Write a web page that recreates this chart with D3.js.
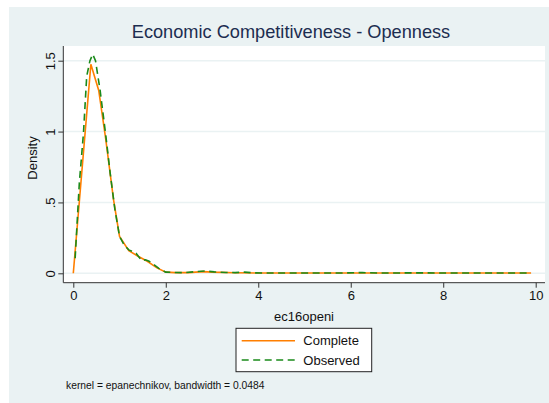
<!DOCTYPE html>
<html><head><meta charset="utf-8">
<script src="https://cdn.jsdelivr.net/npm/d3@7"></script>
<style>body{margin:0;background:#fff}svg{display:block;font-family:"Liberation Sans",Arial,sans-serif}</style>
</head><body>
<svg id="c" width="549" height="403"></svg>
<script>
const title = "Economic Competitiveness - Openness";
const xLabel = "ec16openi";
const yLabel = "Density";
const note = "kernel = epanechnikov, bandwidth = 0.0484";
const xTicks = [0, 2, 4, 6, 8, 10];
const yTicks = [0, 0.5, 1, 1.5];
const yTickLabels = ["0", ".5", "1", "1.5"];
const seriesNames = ["Complete", "Observed"];
const completeX = [0, 0.38, 0.55, 0.7, 0.87, 1.0, 1.2, 1.4, 1.6, 1.8, 2.0, 2.2, 2.5, 2.8, 3.0, 3.5, 4.0, 5.0, 6.0, 7.0, 8.0, 9.0, 9.9];
const completeY = [0, 1.475, 1.29, 0.95, 0.52, 0.26, 0.16, 0.12, 0.085, 0.04, 0.008, 0.005, 0.005, 0.012, 0.008, 0.004, 0.002, 0.002, 0.002, 0.002, 0.002, 0.002, 0.002];
const observedX = [0.04, 0.13, 0.22, 0.29, 0.36, 0.42, 0.48, 0.58, 0.7, 0.8, 0.9, 1.0, 1.1, 1.2, 1.28, 1.36, 1.48, 1.56, 1.64, 1.75, 1.85, 2.0, 2.2, 2.4, 2.6, 2.85, 3.05, 3.3, 3.5, 3.7, 3.9, 4.2, 5.0, 5.8, 6.25, 6.6, 7.4, 8.2, 9.0, 9.9];
const observedY = [0.106, 0.635, 0.99, 1.39, 1.5, 1.545, 1.5, 1.29, 0.98, 0.7, 0.45, 0.26, 0.2, 0.165, 0.155, 0.14, 0.09, 0.095, 0.085, 0.06, 0.035, 0.008, 0.006, 0.004, 0.01, 0.016, 0.01, 0.006, 0.005, 0.008, 0.003, 0.002, 0.002, 0.002, 0.005, 0.002, 0.003, 0.002, 0.002, 0.002];
const colors = ["#ff7f00", "#1a8a1a"];

const svg = d3.select("#c");
svg.append("rect").attr("x",9).attr("y",7).attr("width",540).attr("height",396).attr("fill","#eaf2f3");
const x = d3.scaleLinear().domain([0,10]).range([73.3,535.7]);
const y = d3.scaleLinear().domain([0,1.5]).range([273.3,60.7]);
const pl = 63.3, pr = 545, pt = 46, pb = 282.7;
svg.append("rect").attr("x",pl).attr("y",pt).attr("width",pr-pl).attr("height",pb-pt).attr("fill","#fff");
// grid
svg.append("g").selectAll("line").data(yTicks).join("line")
  .attr("x1",pl).attr("x2",pr).attr("y1",d=>y(d)).attr("y2",d=>y(d))
  .attr("stroke","#eaf2f3").attr("stroke-width",1.5);
// axes
const xa = svg.append("g").attr("transform",`translate(0,${pb})`)
  .call(d3.axisBottom(x).tickValues(xTicks).tickSize(5).tickPadding(3).tickFormat(d3.format("d")));
xa.select(".domain").attr("d",`M${pl},0H${pr}`);
const ya = svg.append("g").attr("transform",`translate(${pl},0)`)
  .call(d3.axisLeft(y).tickValues(yTicks).tickSize(5).tickFormat((d,i)=>yTickLabels[i]));
ya.select(".domain").attr("d",`M0,${pt}V${pb}`);
[xa,ya].forEach(a=>{a.selectAll("path,line").attr("stroke","#333").attr("stroke-width",1);
  a.selectAll("text").attr("fill","#111").style("font-size","13px").style("font-family","Liberation Sans, Arial, sans-serif");});
ya.selectAll("text").attr("x",null).attr("dy",null).attr("text-anchor","middle")
  .attr("transform","translate(-13,0) rotate(-90)").attr("dy","0.35em");
// lines
const line = d3.line().x(d=>x(d[0])).y(d=>y(d[1]));
svg.append("path").datum(completeX.map((v,i)=>[v,completeY[i]])).attr("d",line)
  .attr("fill","none").attr("stroke",colors[0]).attr("stroke-width",1.6);
svg.append("path").datum(observedX.map((v,i)=>[v,observedY[i]])).attr("d",line)
  .attr("fill","none").attr("stroke",colors[1]).attr("stroke-width",1.6).attr("stroke-dasharray","7,4.5");
// titles
svg.append("text").attr("x",291).attr("y",38).attr("text-anchor","middle").attr("fill","#1c2d50")
  .style("font-size","18.2px").text(title);
svg.append("text").attr("x",304).attr("y",321).attr("text-anchor","middle").attr("fill","#111")
  .style("font-size","13px").text(xLabel);
svg.append("text").attr("transform","translate(37,158) rotate(-90)").attr("text-anchor","middle").attr("fill","#111")
  .style("font-size","13px").text(yLabel);
// legend
svg.append("rect").attr("x",236).attr("y",328.3).attr("width",135.7).attr("height",43.4)
  .attr("fill","#fff").attr("stroke","#222").attr("stroke-width",1);
const ly = [340.7, 360];
seriesNames.forEach((n,i)=>{
  svg.append("line").attr("x1",241.7).attr("x2",295).attr("y1",ly[i]).attr("y2",ly[i])
    .attr("stroke",colors[i]).attr("stroke-width",1.6).attr("stroke-dasharray",i?"7,4.5":null);
  svg.append("text").attr("x",303.3).attr("y",ly[i]+4.6).attr("fill","#111").style("font-size","13px").text(n);
});
svg.append("text").attr("x",66).attr("y",389).attr("fill","#111").style("font-size","10.3px").text(note);
</script>
</body></html>
